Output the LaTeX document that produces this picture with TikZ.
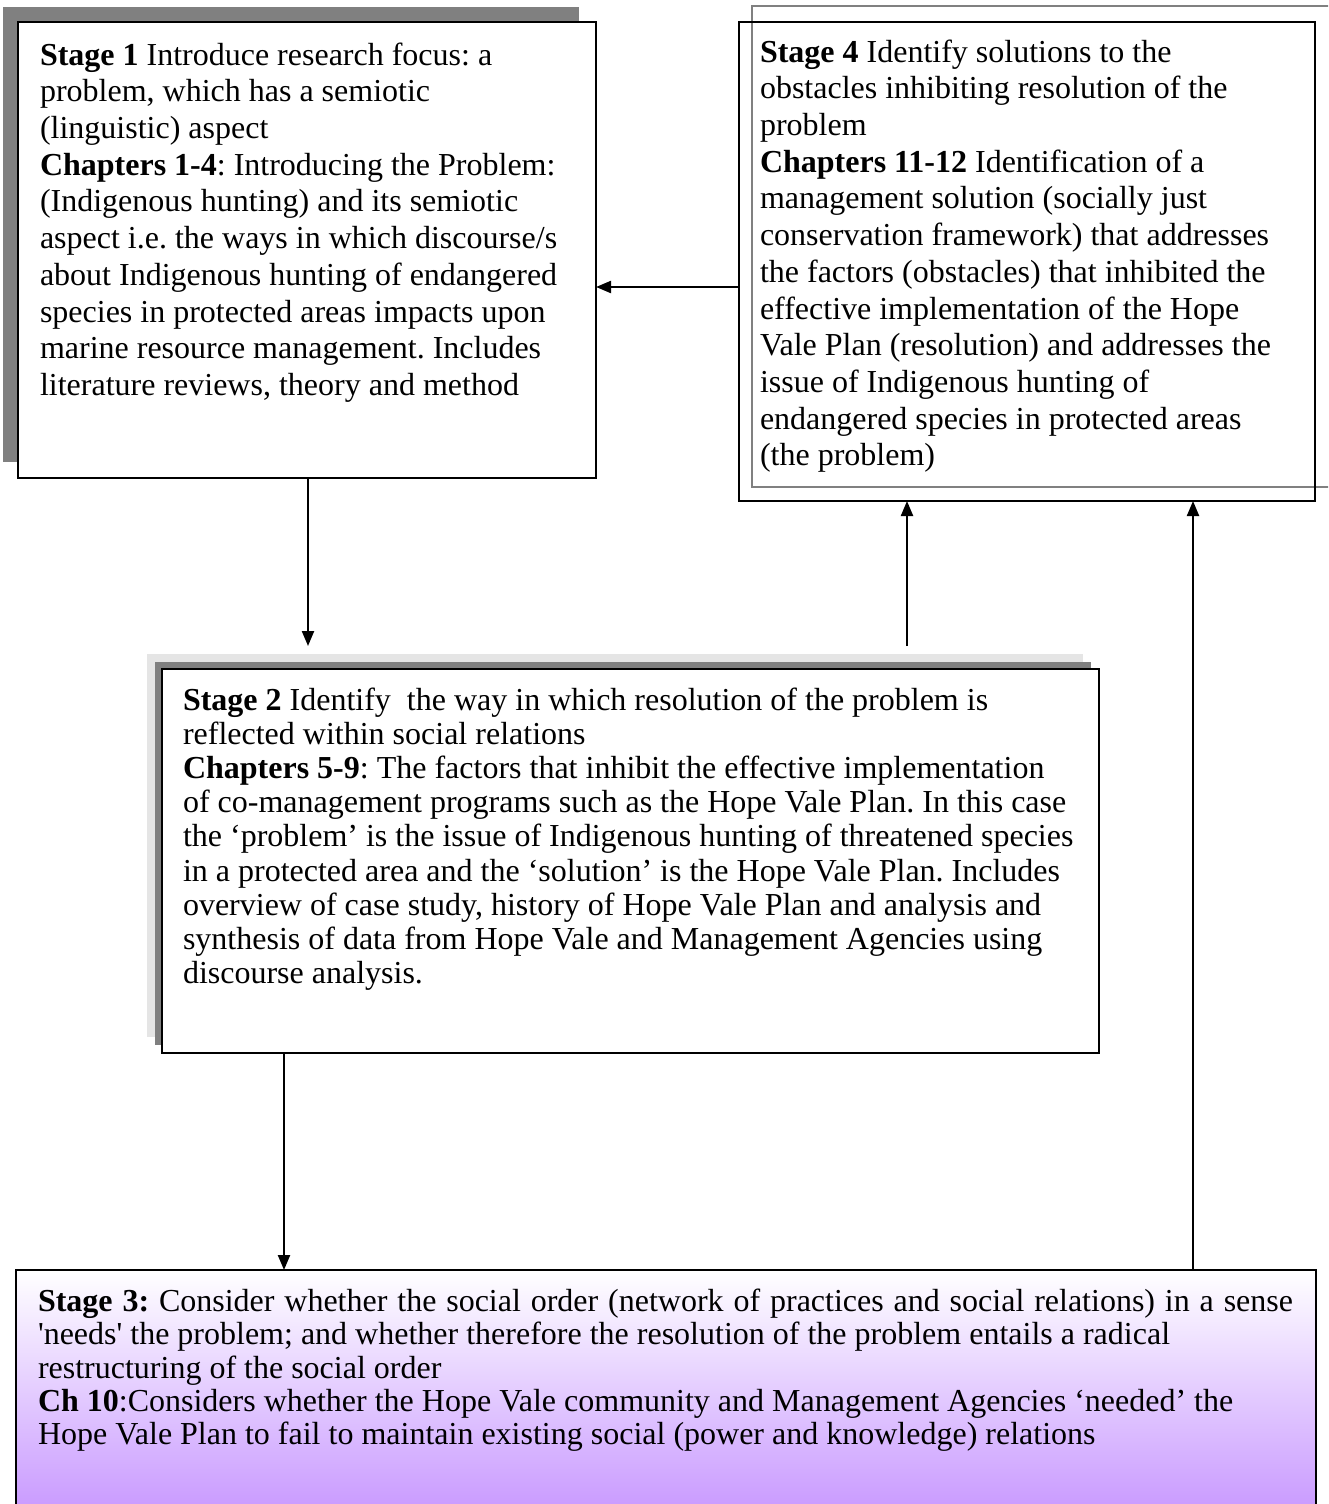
\documentclass[tikz,border=0pt]{standalone}
\usepackage{fontspec}
\setmainfont{Liberation Serif}
\usetikzlibrary{arrows.meta,calc}

\definecolor{shadowdark}{RGB}{128,128,128}
\definecolor{shadowlight}{RGB}{229,229,229}
\definecolor{lavender}{RGB}{200,152,255}

\begin{document}
\frenchspacing
\begin{tikzpicture}[x=1pt,y=-1pt,
  panel/.style={draw=black, line width=2.8pt, fill=white, inner sep=0pt, outer sep=0pt, anchor=north west},
  backdrop/.style={inner sep=0pt, outer sep=0pt, anchor=north west, draw=none},
  blurb/.style={inner sep=0pt, outer sep=0pt, anchor=north west, align=left},
  bigtext/.style={font=\fontsize{32}{36.7}\selectfont},
  midtext/.style={font=\fontsize{32}{34.1}\selectfont},
  widetext/.style={font=\fontsize{32}{33.3}\selectfont},
  conn/.style={draw=black, line width=2.2pt, -{Triangle[length=15pt,width=12pt]}}]

\clip (0,0) rectangle (1328,1504);

% Stage 1: shadow and panel
\node[backdrop, fill=shadowdark, minimum width=576, minimum height=455] (s1back) at (3,7) {};
\node[panel, minimum width=578, minimum height=456] (s1) at (18,22) {};
\node[blurb, bigtext] (s1text) at (40,42.6) {%
\textbf{Stage 1} Introduce research focus: a\\
problem, which has a semiotic\\
(linguistic) aspect\\
\textbf{Chapters 1-4}: Introducing the Problem:\\
(Indigenous hunting) and its semiotic\\
aspect i.e. the ways in which discourse/s\\
about Indigenous hunting of endangered\\
species in protected areas impacts upon\\
marine resource management. Includes\\
literature reviews, theory and method};

% Stage 4: panel with offset grey frame
\node[panel, draw=none, minimum width=576, minimum height=479] (s4) at (739,22) {};
\node[backdrop, draw=shadowdark, line width=1.6pt, minimum width=590, minimum height=481] (s4frame) at (752,6) {};
\draw[black, line width=2.8pt] (s4.north west) rectangle (s4.south east);
\node[blurb, bigtext] (s4text) at (760,39.6) {%
\textbf{Stage 4} Identify solutions to the\\
obstacles inhibiting resolution of the\\
problem\\
\textbf{Chapters 11-12} Identification of a\\
management solution (socially just\\
conservation framework) that addresses\\
the factors (obstacles) that inhibited the\\
effective implementation of the Hope\\
Vale Plan (resolution) and addresses the\\
issue of Indigenous hunting of\\
endangered species in protected areas\\
(the problem)};

% Stage 2: double shadow and panel
\node[backdrop, fill=shadowlight, minimum width=936, minimum height=383] (s2back) at (147,654) {};
\node[backdrop, fill=shadowdark, minimum width=936, minimum height=383] (s2mid) at (155,662) {};
\node[panel, minimum width=937, minimum height=384] (s2) at (162,669) {};
\node[blurb, midtext] (s2text) at (183,688) {%
\textbf{Stage 2} Identify\ \ the way in which resolution of the problem is\\
reflected within social relations\\
\textbf{Chapters 5-9}: The factors that inhibit the effective implementation\\
of co-management programs such as the Hope Vale Plan. In this case\\
the ‘problem’ is the issue of Indigenous hunting of threatened species\\
in a protected area and the ‘solution’ is the Hope Vale Plan. Includes\\
overview of case study, history of Hope Vale Plan and analysis and\\
synthesis of data from Hope Vale and Management Agencies using\\
discourse analysis.};

% Stage 3: shaded panel running past the lower edge
\node[panel, fill=none, top color=white, bottom color=lavender, minimum width=1300, minimum height=245] (s3) at (16,1270) {};
\node[blurb, widetext] (s3text) at (38,1289) {%
\hbox to 1255pt{\textbf{Stage 3:} Consider whether the social order (network of practices and social relations) in a sense}\\
\textquotesingle needs\textquotesingle{} the problem; and whether therefore the resolution of the problem entails a radical\\
restructuring of the social order\\
\textbf{Ch 10}:Considers whether the Hope Vale community and Management Agencies ‘needed’ the\\
Hope Vale Plan to fail to maintain existing social (power and knowledge) relations};

% Connectors
\coordinate (row) at (0,287);
\coordinate (colA) at (308,0);
\coordinate (colB) at (907,0);
\coordinate (colC) at (284,0);
\coordinate (colD) at (1193,0);

\draw[conn, shorten >=8pt] (colA |- s1.south) -- (colA |- s2back.north);
\draw[conn] (s4.west |- row) -- (s1.east |- row);
\draw[conn, shorten <=8pt] (colB |- s2back.north) -- (colB |- s4.south);
\draw[conn] (colC |- s2.south) -- (colC |- s3.north);
\draw[conn] (colD |- s3.north) -- (colD |- s4.south);

\end{tikzpicture}
\end{document}
